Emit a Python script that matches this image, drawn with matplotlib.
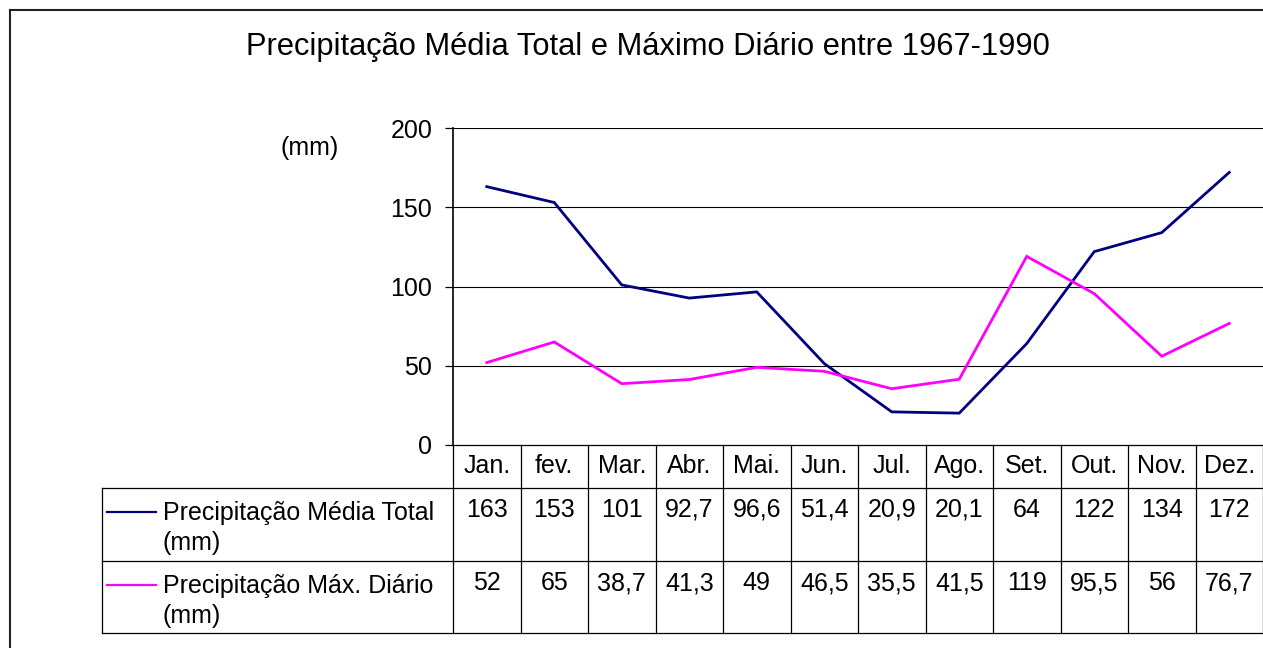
import matplotlib
matplotlib.use("Agg")
import matplotlib.pyplot as plt
from matplotlib.lines import Line2D
import matplotlib.transforms as mtrans

plt.rcParams['font.family'] = ['Liberation Sans', 'DejaVu Sans']

months = ["Jan.", "fev.", "Mar.", "Abr.", "Mai.", "Jun.", "Jul.", "Ago.", "Set.", "Out.", "Nov.", "Dez."]
media_total = [163, 153, 101, 92.7, 96.6, 51.4, 20.9, 20.1, 64, 122, 134, 172]
max_diario = [52, 65, 38.7, 41.3, 49, 46.5, 35.5, 41.5, 119, 95.5, 56, 76.7]
series_names = ["Precipitação Média Total\n(mm)", "Precipitação Máx. Diário\n(mm)"]
series_colors = ["#000080", "#FF00FF"]
title = "Precipitação Média Total e Máximo Diário entre 1967-1990"
yticks = [0, 50, 100, 150, 200]

FS = 18
W, H = 1263, 648
fig = plt.figure(figsize=(W / 100, H / 100), dpi=100)

# pixel layout of plot area
x0, x1 = 453, 1263
y_top, y_bot = 128, 445
ax = fig.add_axes([x0 / W, 1 - y_bot / H, (x1 - x0) / W, (y_bot - y_top) / H])

def ay(py):
    """pixel y -> axes fraction"""
    return (y_bot - py) / (y_bot - y_top)

def axx(px):
    return (px - x0) / (x1 - x0)

xs = list(range(len(months)))
ax.plot(xs, media_total, color=series_colors[0], lw=2.0, solid_joinstyle='miter')
ax.plot(xs, max_diario, color=series_colors[1], lw=2.0, solid_joinstyle='miter')

ax.set_xlim(-0.5, len(months) - 0.5)
ax.set_ylim(0, 200)
ax.set_yticks(yticks)
ax.set_yticklabels([str(v) for v in yticks], fontsize=FS)
ax.tick_params(axis='y', direction='out', length=6, width=0.9, pad=9)
ax.set_xticks([])
for v in yticks[1:]:
    ax.axhline(v, color='black', lw=0.8, zorder=0)
for s in ['top', 'right', 'bottom']:
    ax.spines[s].set_visible(False)
ax.spines['left'].set_linewidth(1.2)
ax.spines['left'].set_bounds(0, 200)

# (mm) label
ax.text(axx(310), ay(148), "(mm)", transform=ax.transAxes, ha='center', va='center', fontsize=FS)

# Title
fig.text(648 / W, 1 - 47 / H, title, ha='center', va='center', fontsize=22.2)

# Table
blend = mtrans.blended_transform_factory(ax.transData, ax.transAxes)
r_head_bot = ay(488)
r1_bot = ay(561)
r2_bot = ay(633)
lc = 'black'
lw = 0.9
for yy in [0, r_head_bot, r1_bot, r2_bot]:
    xstart = axx(453) if yy == 0 else axx(102)
    ax.add_line(Line2D([xstart, 1.0], [yy, yy], transform=ax.transAxes, color=lc, lw=lw, clip_on=False))
ax.add_line(Line2D([axx(102), axx(102)], [r_head_bot, r2_bot], transform=ax.transAxes, color=lc, lw=lw, clip_on=False))
ax.add_line(Line2D([0, 0], [0, r2_bot], transform=ax.transAxes, color=lc, lw=lw, clip_on=False))
for i in range(len(months)):
    xb = i + 0.5
    ax.add_line(Line2D([xb, xb], [0, r2_bot], transform=blend, color=lc, lw=lw, clip_on=False))

def fmt(v):
    return ("%g" % v).replace('.', ',')

for i, m in enumerate(months):
    ax.text(i, ay(466), m, transform=blend, ha='center', va='center', fontsize=FS, clip_on=False)
    ax.text(i, ay(510), fmt(media_total[i]), transform=blend, ha='center', va='center', fontsize=FS, clip_on=False)
    ax.text(i, ay(583), fmt(max_diario[i]), transform=blend, ha='center', va='center', fontsize=FS, clip_on=False)

# row labels with legend keys
for k, (name, col) in enumerate(zip(series_names, series_colors)):
    ytxt = [513, 586][k]
    ax.add_line(Line2D([axx(107), axx(156)], [ay(ytxt - 1), ay(ytxt - 1)], transform=ax.transAxes,
                       color=col, lw=1.6, clip_on=False))
    for j, line in enumerate(name.split("\n")):
        ax.text(axx(163), ay(ytxt + 30 * j), line, transform=ax.transAxes, ha='left', va='center',
                fontsize=FS, clip_on=False)

# outer chart border (left & top visible)
fig.add_artist(Line2D([10 / W, 10 / W], [1 - 10 / H, 0], transform=fig.transFigure, color='#222222', lw=1.5))
fig.add_artist(Line2D([10 / W, 1], [1 - 10 / H, 1 - 10 / H], transform=fig.transFigure, color='#222222', lw=1.5))

fig.savefig("out.png", dpi=100)
